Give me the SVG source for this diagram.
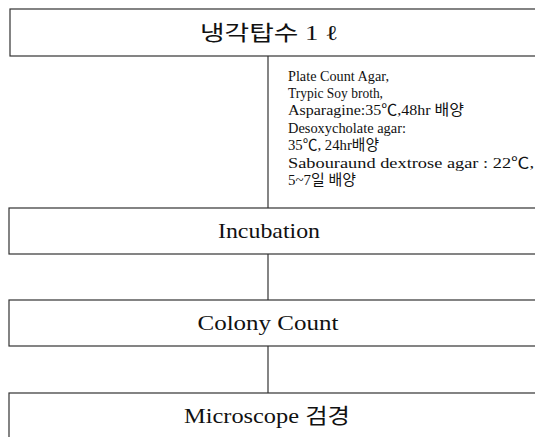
<svg xmlns="http://www.w3.org/2000/svg" width="535" height="437" viewBox="0 0 535 437">
<style>
.box{fill:#fff;stroke:#333;stroke-width:1.2}
.lbl{font-family:"Liberation Serif","Noto Sans CJK KR",serif;font-size:21px;fill:#111;text-anchor:middle}
.note{font-family:"Liberation Serif","Noto Sans CJK KR",serif;font-size:15px;fill:#111}
.conn{stroke:#333;stroke-width:1.2;fill:none}
</style>
<rect width="535" height="437" fill="#fff"/>
<g id="connectors">
<line class="conn" x1="268" y1="56" x2="268" y2="208"/>
<line class="conn" x1="268" y1="254" x2="268" y2="300"/>
<line class="conn" x1="268" y1="346" x2="268" y2="393"/>
</g>
<g id="node1">
<rect class="box" x="10" y="9" width="540" height="47"/>
<text class="lbl" x="269" y="40" textLength="138" lengthAdjust="spacingAndGlyphs">냉각탑수 1 ℓ</text>
</g>
<g id="note">
<text class="note" x="288" y="81" textLength="101" lengthAdjust="spacingAndGlyphs">Plate Count Agar,</text>
<text class="note" x="288" y="98" textLength="95" lengthAdjust="spacingAndGlyphs">Trypic Soy broth,</text>
<text class="note" x="288" y="115" textLength="176" lengthAdjust="spacingAndGlyphs">Asparagine:35℃,48hr 배양</text>
<text class="note" x="288" y="132.5" textLength="118" lengthAdjust="spacingAndGlyphs">Desoxycholate agar:</text>
<text class="note" x="288" y="150" textLength="91" lengthAdjust="spacingAndGlyphs">35℃, 24hr배양</text>
<text class="note" x="288" y="167.5" textLength="246" lengthAdjust="spacingAndGlyphs">Sabouraund dextrose agar : 22℃,</text>
<text class="note" x="288" y="185" textLength="68" lengthAdjust="spacingAndGlyphs">5~7일 배양</text>
</g>
<g id="node2">
<rect class="box" x="9" y="208" width="540" height="46"/>
<text class="lbl" x="269" y="238" textLength="102" lengthAdjust="spacingAndGlyphs">Incubation</text>
</g>
<g id="node3">
<rect class="box" x="9" y="300" width="540" height="46"/>
<text class="lbl" x="268" y="330" textLength="141" lengthAdjust="spacingAndGlyphs">Colony Count</text>
</g>
<g id="node4">
<rect class="box" x="9" y="393" width="540" height="60"/>
<text class="lbl" x="267" y="423" textLength="166" lengthAdjust="spacingAndGlyphs">Microscope 검경</text>
</g>
</svg>
